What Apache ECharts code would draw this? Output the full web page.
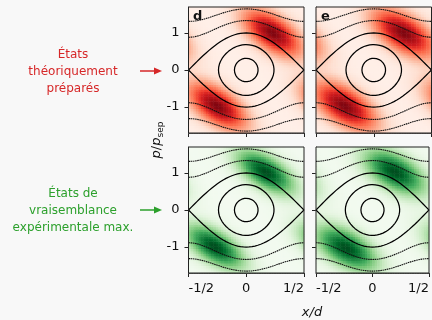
<!DOCTYPE html>
<html><head><meta charset="utf-8">
<script src="https://cdn.jsdelivr.net/npm/echarts@6/dist/echarts.min.js"></script>
<style>html,body{margin:0;padding:0;background:#f8f8f8}#c{width:432px;height:320px}</style>
</head><body><div id="c"></div>
<script>
// ---- data ----
const xTickVals = [-0.5, 0, 0.5];
const xTickLabels = ['-1/2', '0', '1/2'];
const yTickVals = [-1, 0, 1];
const yTickLabels = ['-1', '0', '1'];
const xRange = [-0.5, 0.5];
const pRange = [-1.7, 1.7];
// orbit levels h = (p/psep)^2 + sin^2(pi x/d)
const closedLevels = [0.1, 0.47];
const separatrixLevel = [1];
const openLevels = [1.78, 2.72];
const panelLabels = ['d', 'e', '', ''];
// Wigner-like blobs per panel: [x0, p0, sigmaMajor, sigmaMinor, angleDeg, amp]
const blobsD = [[0.23, 1.0, 0.17, 0.085, -35, 1], [-0.25, -0.97, 0.17, 0.085, -35, 1]];
const blobsE = [[0.26, 1.0, 0.18, 0.09, -33, 1], [-0.25, -0.97, 0.18, 0.09, -33, 1]];
const blobsGL = [[0.17, 1.03, 0.17, 0.08, -33, 1], [-0.27, -0.99, 0.17, 0.08, -33, 1]];
const blobsGR = [[0.2, 1.03, 0.18, 0.09, -30, 1], [-0.23, -1.03, 0.18, 0.09, -30, 1]];
const backgroundLevel = [0.035, 0.035, 0.03, 0.03];
const peakLevel = [0.95, 0.95, 0.97, 0.97];

// ---- layout ----
const ASPECT = 37 / 115; // px per p-unit / px per x-unit
const NX = 46, NY = 52;
const GAMMA = 0.72;
const grids = [
  {left: 188.5, top: 7, width: 115.5, height: 126},
  {left: 316, top: 7, width: 115.5, height: 126},
  {left: 188.5, top: 147, width: 115.5, height: 126},
  {left: 316, top: 147, width: 115.5, height: 126}
];
const panelBlobs = [blobsD, blobsE, blobsGL, blobsGR];

function field(blobs, bg, peak) {
  const vals = [];
  let mx = 0;
  for (let i = 0; i < NX; i++) {
    for (let j = 0; j < NY; j++) {
      const x = xRange[0] + (i + 0.5) * (xRange[1] - xRange[0]) / NX;
      const p = pRange[0] + (j + 0.5) * (pRange[1] - pRange[0]) / NY;
      let v = 0;
      blobs.forEach(b => {
        const a = b[4] * Math.PI / 180;
        for (let k = -1; k <= 1; k++) {
          const dx = x - b[0] + k;
          const dy = (p - b[1]) * ASPECT;
          const u = dx * Math.cos(a) + dy * Math.sin(a);
          const w = -dx * Math.sin(a) + dy * Math.cos(a);
          v += b[5] * Math.exp(-u * u / (2 * b[2] * b[2]) - w * w / (2 * b[3] * b[3]));
        }
      });
      vals.push([i, j, v]);
      if (v > mx) mx = v;
    }
  }
  return vals.map(d => [d[0], d[1], bg + (peak - bg) * Math.pow(d[2] / mx, GAMMA)]);
}

function curves() {
  const out = [];
  closedLevels.forEach(h => {
    const pts = [];
    for (let t = 0; t <= 160; t++) {
      const th = t / 160 * 2 * Math.PI;
      pts.push([Math.asin(Math.sqrt(h) * Math.sin(th)) / Math.PI, Math.sqrt(h) * Math.cos(th)]);
    }
    out.push({pts, w: 1.25, c: '#000'});
  });
  separatrixLevel.forEach(h => {
    [1, -1].forEach(s => {
      const pts = [];
      for (let t = 0; t <= 120; t++) {
        const x = -0.5 + t / 120;
        pts.push([x, s * Math.sqrt(Math.max(0, h - Math.sin(Math.PI * x) ** 2))]);
      }
      out.push({pts, w: 1.25, c: '#000'});
    });
  });
  openLevels.forEach(h => {
    [1, -1].forEach(s => {
      const pts = [];
      for (let t = 0; t <= 120; t++) {
        const x = -0.5 + t / 120;
        pts.push([x, s * Math.sqrt(h - Math.sin(Math.PI * x) ** 2)]);
      }
      out.push({pts, w: 1.1, c: '#111', dotted: true});
    });
  });
  return out;
}

const FONT = 'DejaVu Sans';
const xAxes = [], yAxes = [], series = [];
const curveList = curves();
grids.forEach((g, k) => {
  xAxes.push({gridIndex: k, type: 'category', data: Array.from({length: NX}, (_, i) => i), show: false});
  yAxes.push({gridIndex: k, type: 'category', data: Array.from({length: NY}, (_, i) => i), show: false});
  const bottomRow = k >= 2, leftCol = k % 2 === 0;
  xAxes.push({
    gridIndex: k, type: 'value', min: xRange[0], max: xRange[1], position: 'bottom',
    splitLine: {show: false},
    axisLine: {show: true, onZero: false, lineStyle: {color: '#222', width: 1}},
    axisTick: {show: true, inside: false, length: 4, customValues: xTickVals, lineStyle: {color: '#222'}},
    axisLabel: {show: bottomRow, customValues: xTickVals, margin: 9, fontFamily: FONT, fontSize: 13, color: '#111',
      alignMinLabel: 'left', alignMaxLabel: 'right',
      formatter: v => xTickLabels[xTickVals.findIndex(t => Math.abs(t - v) < 1e-9)]}
  });
  yAxes.push({
    gridIndex: k, type: 'value', min: pRange[0], max: pRange[1], position: 'left',
    splitLine: {show: false},
    axisLine: {show: true, onZero: false, lineStyle: {color: '#222', width: 1}},
    axisTick: {show: true, inside: false, length: 4, customValues: yTickVals, lineStyle: {color: '#222'}},
    axisLabel: {show: leftCol, customValues: yTickVals, margin: 9, fontFamily: FONT, fontSize: 13, color: '#111',
      formatter: v => yTickLabels[yTickVals.findIndex(t => Math.abs(t - v) < 1e-9)]}
  });
  series.push({
    type: 'heatmap', xAxisIndex: 2 * k, yAxisIndex: 2 * k,
    data: field(panelBlobs[k], backgroundLevel[k], peakLevel[k]),
    itemStyle: {borderWidth: 0}, emphasis: {disabled: true}, progressive: 0
  });
  curveList.forEach(cv => {
    series.push({
      type: 'line', xAxisIndex: 2 * k + 1, yAxisIndex: 2 * k + 1, data: cv.pts,
      showSymbol: false, symbol: 'none', smooth: false, clip: true, z: 5, silent: true,
      lineStyle: {color: cv.c, width: cv.w, type: cv.dotted ? [1.6, 0.6] : 'solid'}
    });
  });
});

const reds = ['#fff5f0', '#fee0d2', '#fcbba1', '#fc9272', '#fb6a4a', '#ef3b2c', '#cb181d', '#a50f15', '#67000d'];
const greens = ['#f7fcf5', '#e5f5e0', '#c7e9c0', '#a1d99b', '#74c476', '#41ab5d', '#238b45', '#006d2c', '#00441b'];
const heatIdx = [0, 1, 2, 3].map(k => k * (1 + curveList.length));

const chart = echarts.init(document.getElementById('c'), null, {renderer: 'canvas'});
chart.setOption({
  backgroundColor: '#f8f8f8',
  animation: false,
  grid: grids.map(g => Object.assign({show: true, borderColor: '#222', borderWidth: 1, backgroundColor: 'transparent', z: 10, containLabel: false}, g)),
  xAxis: xAxes,
  yAxis: yAxes,
  visualMap: [
    {type: 'continuous', show: false, min: 0, max: 1, seriesIndex: [heatIdx[0], heatIdx[1]], inRange: {color: reds}},
    {type: 'continuous', show: false, min: 0, max: 1, seriesIndex: [heatIdx[2], heatIdx[3]], inRange: {color: greens}}
  ],
  series: series,
  graphic: [
    {type: 'text', left: 193, top: 10, z: 20, style: {text: panelLabels[0], font: 'bold 13px DejaVu Sans', fill: '#111'}},
    {type: 'text', left: 321, top: 10, z: 20, style: {text: panelLabels[1], font: 'bold 13px DejaVu Sans', fill: '#111'}},
    {type: 'text', x: 73, y: 72, style: {text: 'États\nthéoriquement\npréparés', font: '12px DejaVu Sans', fill: '#d62728', align: 'center', verticalAlign: 'middle', lineHeight: 17}},
    {type: 'text', x: 73, y: 211, style: {text: 'États de\nvraisemblance\nexpérimentale max.', font: '12px DejaVu Sans', fill: '#2ca02c', align: 'center', verticalAlign: 'middle', lineHeight: 17}},
    {type: 'line', shape: {x1: 140, y1: 71, x2: 155, y2: 71}, style: {stroke: '#d62728', lineWidth: 1.5}},
    {type: 'polygon', shape: {points: [[154, 67.5], [162, 71], [154, 74.5]]}, style: {fill: '#d62728'}},
    {type: 'line', shape: {x1: 140, y1: 210, x2: 155, y2: 210}, style: {stroke: '#2ca02c', lineWidth: 1.5}},
    {type: 'polygon', shape: {points: [[154, 206.5], [162, 210], [154, 213.5]]}, style: {fill: '#2ca02c'}},
    {type: 'text', x: 157, y: 140, rotation: Math.PI / 2, style: {
      text: '{i|p}{n|/}{i|p}{s|sep}', align: 'center', verticalAlign: 'middle',
      rich: {i: {fontFamily: FONT, fontStyle: 'italic', fontSize: 13, fill: '#111'},
             n: {fontFamily: FONT, fontSize: 13, fill: '#111'},
             s: {fontFamily: FONT, fontSize: 9, fill: '#111', padding: [7, 0, 0, 0]}}}},
    {type: 'text', x: 312, y: 313, style: {text: 'x/d', font: 'italic 13px DejaVu Sans', fill: '#111', align: 'center', verticalAlign: 'middle'}}
  ]
});
</script>
</body></html>
